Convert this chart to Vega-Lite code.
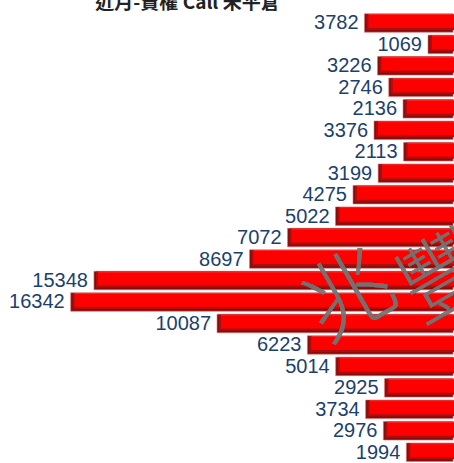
{
  "$schema": "https://vega.github.io/schema/vega-lite/v6.json",
  "width": 453,
  "height": 448,
  "autosize": "none",
  "padding": {"left": 0, "top": 13.6, "right": 1, "bottom": 1.4},
  "background": "white",
  "config": {"view": {"stroke": null}},
  "title": {
    "text": "近月-賣權 Call 未平倉",
    "font": "Noto Sans CJK TC",
    "fontSize": 19,
    "fontWeight": "bold",
    "color": "#222222",
    "anchor": "middle",
    "dx": -39,
    "offset": 0,
    "baseline": "top",
    "dy": 0
  },
  "data": {
    "values": [
      {"row": 1, "oi": 3782},
      {"row": 2, "oi": 1069},
      {"row": 3, "oi": 3226},
      {"row": 4, "oi": 2746},
      {"row": 5, "oi": 2136},
      {"row": 6, "oi": 3376},
      {"row": 7, "oi": 2113},
      {"row": 8, "oi": 3199},
      {"row": 9, "oi": 4275},
      {"row": 10, "oi": 5022},
      {"row": 11, "oi": 7072},
      {"row": 12, "oi": 8697},
      {"row": 13, "oi": 15348},
      {"row": 14, "oi": 16342},
      {"row": 15, "oi": 10087},
      {"row": 16, "oi": 6223},
      {"row": 17, "oi": 5014},
      {"row": 18, "oi": 2925},
      {"row": 19, "oi": 3734},
      {"row": 20, "oi": 2976},
      {"row": 21, "oi": 1994}
    ]
  },
  "encoding": {
    "y": {"field": "row", "type": "ordinal", "axis": null, "scale": {"paddingInner": 0.13, "paddingOuter": 0}},
    "x": {"field": "oi", "type": "quantitative", "axis": null, "scale": {"domain": [0, 19364], "reverse": true, "nice": false, "zero": true}}
  },
  "layer": [
    {"mark": {"type": "bar", "color": "#8c0a0a", "size": 18.5, "stroke": "#e07070", "strokeWidth": 0.6}},
    {"mark": {"type": "bar", "color": "#a81010", "size": 16, "yOffset": -1, "xOffset": 2}},
    {"mark": {"type": "bar", "size": 14, "yOffset": -2, "xOffset": 4,
      "color": {"gradient": "linear", "x1": 0, "y1": 0, "x2": 0, "y2": 1,
        "stops": [{"offset": 0, "color": "#ff3c3c"}, {"offset": 0.1, "color": "#ff0000"}, {"offset": 1, "color": "#ff0000"}]}}},
    {"mark": {"type": "text", "align": "right", "baseline": "middle", "dx": -6, "dy": 0.5, "font": "Liberation Sans", "fontSize": 20, "color": "#1b3f6e"},
      "encoding": {"text": {"field": "oi", "type": "quantitative"}}},
    {"mark": {"type": "text", "font": "Noto Sans CJK TC", "fontSize": 88, "fontWeight": 300, "color": "#777777", "opacity": 0.12, "angle": -30, "align": "center", "baseline": "middle", "dy": -4},
      "encoding": {"x": {"datum": 4300, "type": "quantitative"}, "y": {"datum": 14, "type": "ordinal"}, "text": {"value": "兆"}}},
    {"mark": {"type": "text", "font": "Noto Sans CJK TC", "fontSize": 88, "fontWeight": 300, "color": "#777777", "opacity": 0.12, "angle": -30, "align": "center", "baseline": "middle", "dy": 0},
      "encoding": {"x": {"datum": 300, "type": "quantitative"}, "y": {"datum": 13, "type": "ordinal"}, "text": {"value": "豐"}}}
  ]
}
